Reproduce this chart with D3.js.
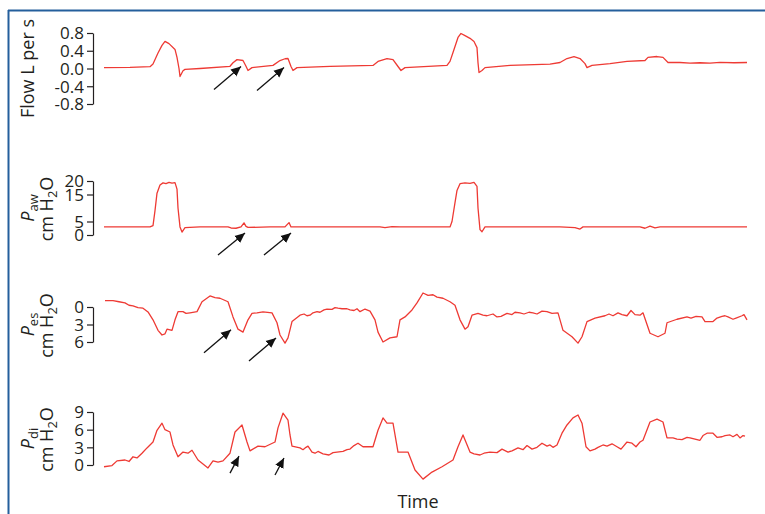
<!DOCTYPE html>
<html>
<head>
<meta charset="utf-8">
<script src="https://cdn.jsdelivr.net/npm/d3@7"></script>
<style>
  html, body { margin: 0; padding: 0; background: #fff; }
  svg { display: block; }
  text { font-family: "Open Sans", "DejaVu Sans", sans-serif; fill: #231f20; }
</style>
</head>
<body>
<svg id="chart" width="765" height="514"></svg>
<script>
// ---------- DATA (time in samples, values in panel units) ----------
const timeDomain = [0, 643];

const flowData = [
  [0,0.02],[26,0.025],[46,0.04],[49,0.1],[54,0.35],[58,0.52],[61,0.61],[65,0.56],[71,0.43],[73,0.25],
  [75,0.0],[76,-0.18],[79,-0.05],[81,-0.02],[96,0.0],[126,0.05],[129,0.13],[133,0.2],[139,0.18],[142,0.05],
  [144,-0.045],[148,0.02],[169,0.07],[176,0.18],[181,0.22],[184,0.225],[187,0.045],[189,-0.045],[193,0.02],
  [226,0.05],[269,0.07],[274,0.16],[283,0.225],[289,0.2],[294,0.045],[297,-0.045],[301,0.02],[343,0.07],
  [346,0.16],[349,0.36],[354,0.70],[357,0.79],[361,0.74],[366,0.68],[370,0.61],[373,0.47],[374,0.13],
  [375,-0.09],[378,-0.045],[381,0.02],[406,0.07],[446,0.1],[456,0.135],[463,0.225],[470,0.27],[476,0.225],
  [481,0.11],[483,0.02],[488,0.07],[506,0.11],[523,0.16],[541,0.18],[544,0.25],[553,0.27],[559,0.25],
  [564,0.135],[576,0.135],[586,0.12],[596,0.13],[606,0.12],[616,0.14],[630,0.13],[643,0.135]
];

const pawData = [
  [0,3],[46,3],[49,3.5],[51,9],[53,15.5],[56,18.5],[59,19.3],[62,19.0],[65,19.5],[68,19.2],[71,19.4],
  [73,17],[74,10],[76,3],[78,1.1],[81,2.7],[96,3],[124,3],[127,2.6],[132,2.5],[137,3.0],[140,4.5],
  [142,3.2],[144,2.8],[166,3],[181,3.0],[185,4.6],[187,3.0],[196,3],[276,3],[281,2.7],[288,3.1],[296,3],
  [346,3],[348,5],[351,12],[353,16.5],[356,19],[361,19.3],[366,19.1],[370,19.5],[373,18],[374,10],
  [376,2],[378,1.2],[381,3],[456,3],[471,2.7],[476,2.2],[479,3],[536,3],[541,2.5],[546,3.3],[551,2.6],
  [556,3],[643,3]
];

const pesData = [
  [1,-1.1],[9,-1.1],[15,-0.9],[21,-0.7],[25,-0.3],[29,-0.2],[34,0.1],[39,0.2],[44,0.85],[49,2.2],[54,4.0],
  [58,4.8],[61,4.6],[63,3.8],[68,4.0],[71,2.2],[74,0.8],[79,0.8],[82,1.1],[86,1.0],[93,0.8],[98,-0.9],
  [106,-1.9],[111,-1.6],[116,-1.5],[124,-0.9],[129,1.7],[134,3.8],[139,4.3],[144,2.2],[148,1.1],[153,1.0],
  [159,0.85],[168,1.0],[173,2.7],[176,4.8],[181,6.2],[184,5.3],[188,2.5],[196,1.4],[200,1.2],[203,1.5],
  [206,1.4],[209,1.0],[213,0.8],[216,0.9],[220,0.5],[223,0.35],[228,0.4],[231,0.1],[234,0.2],[238,0.3],
  [243,0.3],[246,0.5],[250,0.6],[253,0.3],[256,0.8],[261,0.35],[266,0.7],[271,2.2],[274,4.3],[279,6.0],
  [286,5.3],[293,5.1],[296,2.2],[301,1.7],[308,0.5],[313,-0.7],[319,-2.4],[324,-2.0],[329,-2.1],
  [333,-1.7],[339,-1.5],[346,-0.9],[351,-0.3],[356,2.2],[361,3.8],[364,3.4],[368,1.4],[374,1.1],[379,1.4],
  [383,1.5],[389,1.2],[393,1.7],[397,1.6],[403,1.1],[408,1.3],[411,0.9],[416,1.0],[420,1.2],[425,0.9],
  [429,1.0],[433,1.2],[438,0.7],[443,0.8],[448,1.1],[454,1.0],[459,4.0],[468,5.1],[474,6.2],[478,5.1],
  [483,2.5],[491,1.9],[501,1.5],[505,1.2],[509,1.5],[514,1.0],[518,1.3],[523,1.5],[527,0.6],[531,1.3],
  [536,1.4],[539,1.0],[546,4.5],[554,5.1],[561,4.5],[563,2.7],[573,2.1],[583,1.7],[587,1.9],[592,1.6],
  [598,1.7],[601,2.5],[605,2.5],[609,2.5],[613,1.9],[618,1.6],[621,1.5],[624,1.7],[629,2.1],[632,1.9],
  [638,1.5],[640,1.3],[643,2.2]
];

const pdiData = [
  [0,-0.3],[8,-0.1],[13,0.7],[21,0.85],[25,0.6],[29,1.4],[33,1.2],[38,2.0],[43,2.9],[49,3.9],[53,5.9],
  [58,7.1],[61,6.0],[66,5.6],[69,3.4],[74,1.4],[79,2.2],[84,2.0],[88,2.5],[94,0.85],[104,-0.5],[109,0.7],
  [114,0.5],[119,0.7],[126,2.0],[131,5.6],[138,6.8],[143,3.9],[146,2.4],[154,3.2],[161,3.1],[171,3.9],
  [174,6.3],[179,8.8],[184,7.6],[186,5.1],[188,3.2],[196,2.9],[199,2.6],[202,3.0],[204,3.2],[208,2.2],
  [211,2.0],[214,2.3],[219,1.9],[225,1.7],[229,2.1],[233,2.2],[239,2.3],[243,2.6],[246,2.7],[250,3.3],
  [254,3.7],[259,3.1],[269,3.1],[274,5.9],[279,8.0],[283,7.1],[289,7.1],[294,2.2],[304,2.2],[311,-0.85],
  [319,-2.4],[328,-1.2],[338,-0.3],[349,0.85],[354,3.1],[359,5.1],[366,2.2],[370,1.9],[376,1.7],[380,2.0],
  [386,2.2],[393,2.1],[398,2.7],[404,2.2],[408,2.4],[414,2.9],[419,2.6],[423,3.3],[428,2.7],[433,3.0],
  [438,3.7],[443,3.2],[446,3.4],[449,3.0],[453,3.4],[458,5.4],[463,6.8],[469,8.0],[474,8.5],[478,7.1],
  [482,3.1],[486,2.4],[491,2.7],[494,3.0],[499,3.4],[503,3.2],[508,3.6],[513,3.1],[517,2.7],[523,3.9],
  [528,3.7],[532,3.1],[536,3.9],[539,4.2],[546,7.3],[553,7.8],[559,7.3],[563,4.6],[569,4.6],[573,4.4],
  [578,4.3],[583,4.7],[586,4.6],[591,4.4],[596,4.2],[599,5.0],[603,5.4],[609,5.4],[613,4.7],[618,4.8],
  [621,5.0],[626,5.1],[629,4.8],[633,5.2],[636,4.6],[639,5.0],[641,4.9]
];

const flowTicks = [0.8, 0.4, 0.0, -0.4, -0.8];
const flowTickLabels = ["0.8", "0.4", "0.0", "-0.4", "-0.8"];
const pawTicks = [20, 15, 5, 0];
const pawTickLabels = ["20", "15", "5", "0"];
const pesTicks = [0, 3, 6];
const pesTickLabels = ["0", "3", "6"];
const pdiTicks = [9, 6, 3, 0];
const pdiTickLabels = ["9", "6", "3", "0"];

// arrows: tip at [time, value]
const flowArrows = [[137, 0.045], [180, 0.02]];
const pawArrows = [[141, 0.7], [187, 0.7]];
const pesArrows = [[127, 3.9], [172, 5.3]];
const pdiArrows = [[135, 1.5], [180, 1.2]];

// ---------- LAYOUT ----------
const svg = d3.select("#chart");
const x = d3.scaleLinear().domain(timeDomain).range([104, 747]);
const axisX = 93;
const red = "#ee3a34";

// frame
svg.append("line").attr("x1", 8).attr("x2", 765).attr("y1", 10.5).attr("y2", 10.5)
  .attr("stroke", "#245f9c").attr("stroke-width", 2);
svg.append("line").attr("x1", 8.5).attr("x2", 8.5).attr("y1", 10).attr("y2", 514)
  .attr("stroke", "#245f9c").attr("stroke-width", 2);

const defs = svg.append("defs");
defs.append("marker").attr("id", "ah").attr("viewBox", "0 0 10 10")
  .attr("refX", 10).attr("refY", 5).attr("markerWidth", 10).attr("markerHeight", 10)
  .attr("markerUnits", "userSpaceOnUse").attr("orient", "auto")
  .append("path").attr("d", "M0,0.5 L10,5 L0,9.5 Z").attr("fill", "#111");

const panels = [
  { data: flowData, domain: [-0.8, 0.8], range: [104, 33], ticks: flowTicks, labels: flowTickLabels,
    arrows: flowArrows, tail: [-27, 23], label: "flow" },
  { data: pawData, domain: [0, 20], range: [235, 181], ticks: pawTicks, labels: pawTickLabels,
    arrows: pawArrows, tail: [-27, 22], label: "aw" },
  { data: pesData, domain: [0, 6], range: [307, 342], ticks: pesTicks, labels: pesTickLabels,
    arrows: pesArrows, tail: [-27, 23], label: "es" },
  { data: pdiData, domain: [0, 9], range: [465, 412], ticks: pdiTicks, labels: pdiTickLabels,
    arrows: pdiArrows, tail: [-9, 17], label: "di" }
];

panels.forEach(p => {
  const y = d3.scaleLinear().domain(p.domain).range(p.range);
  const ax = d3.axisLeft(y).tickValues(p.ticks).tickSize(6).tickSizeOuter(0)
    .tickFormat((d, i) => p.labels[i]);
  const g = svg.append("g").attr("transform", `translate(${axisX},0)`).call(ax);
  g.select(".domain").attr("stroke", "#231f20").attr("stroke-width", 1.2);
  g.selectAll(".tick line").attr("stroke", "#231f20").attr("stroke-width", 1.2);
  g.selectAll(".tick text").attr("font-size", 17).attr("font-family", "'Open Sans', sans-serif")
    .attr("fill", "#231f20").attr("x", -9).attr("dy", "0.34em");

  const line = d3.line().x(d => x(d[0])).y(d => y(d[1]));
  svg.append("path").datum(p.data).attr("d", line)
    .attr("fill", "none").attr("stroke", red).attr("stroke-width", 1.3)
    .attr("stroke-linejoin", "round");

  p.arrows.forEach(a => {
    const tx = x(a[0]), ty = y(a[1]);
    svg.append("line").attr("x1", tx + p.tail[0]).attr("y1", ty + p.tail[1])
      .attr("x2", tx).attr("y2", ty)
      .attr("stroke", "#111").attr("stroke-width", 1.3).attr("marker-end", "url(#ah)");
  });

  const cy = (p.range[0] + p.range[1]) / 2;
  if (p.label === "flow") {
    svg.append("text").attr("transform", `translate(34,${cy}) rotate(-90)`)
      .attr("text-anchor", "middle").attr("font-size", 18).text("Flow L per s");
  } else {
    const t1 = svg.append("text").attr("transform", `translate(34,${cy}) rotate(-90)`)
      .attr("text-anchor", "middle").attr("font-size", 18);
    t1.append("tspan").attr("font-style", "italic").text("P");
    t1.append("tspan").attr("font-size", 13).attr("dy", 4).text(p.label);
    const t2 = svg.append("text").attr("transform", `translate(53,${cy + 1}) rotate(-90)`)
      .attr("text-anchor", "middle").attr("font-size", 18);
    t2.append("tspan").text("cm H");
    t2.append("tspan").attr("font-size", 13).attr("dy", 4).text("2");
    t2.append("tspan").attr("dy", -4).text("O");
  }
});

svg.append("text").attr("x", 418).attr("y", 508).attr("text-anchor", "middle")
  .attr("font-size", 18).text("Time");
</script>
</body>
</html>
